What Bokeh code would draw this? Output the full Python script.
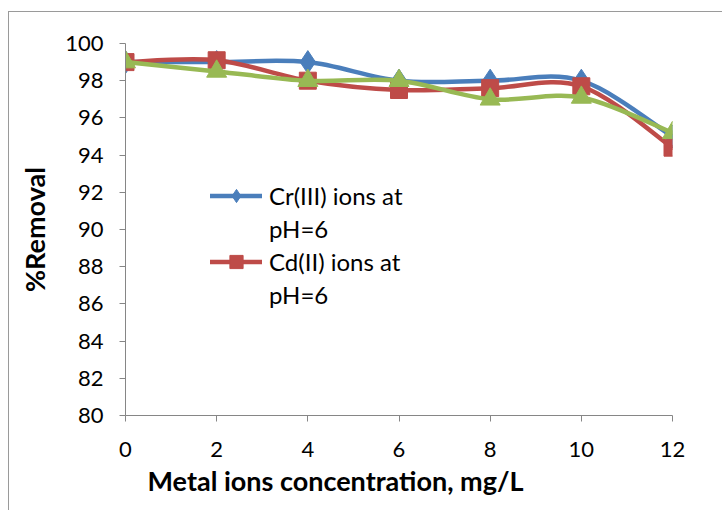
import numpy as np
from bokeh.plotting import figure
from bokeh.models import Range1d, Legend, LegendItem, FixedTicker, Title
from bokeh.embed import file_html
from bokeh.resources import INLINE

# ---- data ----
conc = [0, 2, 4, 6, 8, 10, 12]
cr_removal = [99.0, 99.0, 99.0, 98.0, 98.0, 98.0, 95.0]
cd_removal = [99.0, 99.1, 98.0, 97.5, 97.6, 97.7, 94.4]
g_removal = [99.0, 98.5, 98.0, 98.0, 97.0, 97.1, 95.2]
y_ticks = [80, 82, 84, 86, 88, 90, 92, 94, 96, 98, 100]
x_ticks = [0, 2, 4, 6, 8, 10, 12]

BLUE = "#4A7EBB"
RED = "#BE4B48"
GREEN = "#98B954"
AXIS = "#868686"
FONT = "Lato"

p = figure(width=714, height=499, output_backend="svg", toolbar_location=None,
           x_range=Range1d(0, 12), y_range=Range1d(80, 100),
           min_border_left=116, min_border_right=51, min_border_top=31, min_border_bottom=96,
           styles={"margin-left": "8px", "margin-top": "11px",
                   "border-left": "1px solid #9a9a9a", "border-top": "1px solid #9a9a9a"})
p.outline_line_color = None
p.xgrid.visible = False
p.ygrid.visible = False
p.background_fill_color = "white"
p.border_fill_color = "white"


def smooth(xs, ys):
    xs = np.asarray(xs, float)
    ys = np.asarray(ys, float)
    n = len(xs)
    xp = np.concatenate([[xs[0]], xs, [xs[-1]]])
    yp = np.concatenate([[ys[0]], ys, [ys[-1]]])
    x0, y0 = xs[:-1], ys[:-1]
    x1, y1 = xs[1:], ys[1:]
    t = 1.0 / 6.0
    cx0 = x0 + (xp[2:n + 1] - xp[0:n - 1]) * t
    cy0 = y0 + (yp[2:n + 1] - yp[0:n - 1]) * t
    cx1 = x1 - (xp[3:n + 2] - xp[1:n]) * t
    cy1 = y1 - (yp[3:n + 2] - yp[1:n]) * t
    return dict(x0=x0, y0=y0, x1=x1, y1=y1, cx0=cx0, cy0=cy0, cx1=cx1, cy1=cy1)


series = [
    (cr_removal, BLUE, "diamond", 23),
    (cd_removal, RED, "square", 17),
    (g_removal, GREEN, "triangle", 20),
]
rends = []
for ys, col, mk, sz in series:
    b = smooth(conc, ys)
    lr = p.bezier(x0=b["x0"], y0=b["y0"], x1=b["x1"], y1=b["y1"],
                  cx0=b["cx0"], cy0=b["cy0"], cx1=b["cx1"], cy1=b["cy1"],
                  line_color=col, line_width=4.5, line_cap="round")
    sr = p.scatter(x=conc, y=ys, marker=mk, size=sz, fill_color=col, line_color=col)
    rends.append((lr, sr))

blank = p.line(x=[], y=[], line_alpha=0)

legend = Legend(items=[
    LegendItem(label="Cr(III) ions at", renderers=[rends[0][0], rends[0][1]]),
    LegendItem(label="pH=6", renderers=[blank]),
    LegendItem(label="Cd(II) ions at", renderers=[rends[1][0], rends[1][1]]),
    LegendItem(label="pH=6", renderers=[blank]),
], location=(85, 104), orientation="vertical")
legend.padding = 0
legend.margin = 0
legend.spacing = 0
legend.glyph_width = 52
legend.glyph_height = 33
legend.label_height = 33
legend.label_standoff = 7
legend.label_text_font = FONT
legend.label_text_font_size = "24px"
legend.label_text_color = "black"
legend.border_line_color = None
legend.background_fill_alpha = 0
p.add_layout(legend)

for ax in (p.xaxis[0], p.yaxis[0]):
    ax.axis_line_color = AXIS
    ax.major_tick_line_color = AXIS
    ax.minor_tick_line_color = None
    ax.major_tick_in = 0
    ax.major_tick_out = 6
    ax.major_label_text_font = FONT
    ax.major_label_text_font_size = "22px"
    ax.major_label_text_color = "black"
    ax.axis_label_text_font = FONT
    ax.axis_label_text_font_style = "bold"
    ax.axis_label_text_font_size = "27px"
    ax.axis_label_text_color = "black"

p.xaxis.ticker = FixedTicker(ticks=x_ticks)
p.yaxis.ticker = FixedTicker(ticks=y_ticks)
p.xaxis.major_label_standoff = 20
p.yaxis.major_label_standoff = 16
p.yaxis.axis_label = "%Removal"
p.yaxis.axis_label_standoff = 11

xt = Title(text="Metal ions concentration, mg/L", align="left", offset=22, standoff=4,
           text_font=FONT, text_font_style="bold", text_font_size="27px", text_color="black")
p.add_layout(xt, "below")

open("out.html", "w").write(file_html(p, INLINE))
